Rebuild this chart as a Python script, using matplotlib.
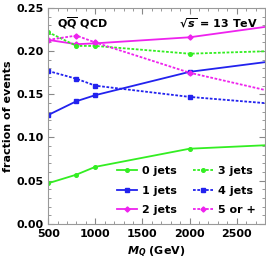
import matplotlib
matplotlib.use("Agg")
import matplotlib.pyplot as plt
from matplotlib.ticker import MultipleLocator

mass = [500, 800, 1000, 2000, 3000]
jets0 = [0.047, 0.057, 0.066, 0.087, 0.092]
jets1 = [0.126, 0.142, 0.149, 0.176, 0.190]
jets2 = [0.213, 0.208, 0.209, 0.216, 0.231]
jets3 = [0.222, 0.206, 0.206, 0.197, 0.2005]
jets4 = [0.177, 0.168, 0.160, 0.147, 0.138]
jets5 = [0.213, 0.218, 0.210, 0.175, 0.150]
labels = ["0 jets", "1 jets", "2 jets", "3 jets", "4 jets", "5 or +"]

green = "#33ee22"
blue = "#2222ee"
magenta = "#ee22ee"

plt.rcParams['font.family'] = ['DejaVu Sans']
plt.rcParams['font.weight'] = 'bold'
plt.rcParams['mathtext.default'] = 'regular'

fig = plt.figure(figsize=(2.66, 2.64), dpi=100)
ax = fig.add_axes([0.181, 0.152, 0.815, 0.818])

dot = (0, (1.5, 0.9))
styles = [
    (jets0, green, '-', 'o'),
    (jets1, blue, '-', 's'),
    (jets2, magenta, '-', 'D'),
    (jets3, green, dot, 'o'),
    (jets4, blue, dot, 's'),
    (jets5, magenta, dot, 'D'),
]
for (vals, c, ls, m), lab in zip(styles, labels):
    ax.plot(mass, vals, color=c, ls=ls, lw=1.3, marker=m, ms=2.6, label=lab,
            clip_on=True)

ax.set_xlim(500, 2800)
ax.set_ylim(0, 0.25)
ax.xaxis.set_major_locator(MultipleLocator(500))
ax.xaxis.set_minor_locator(MultipleLocator(100))
ax.yaxis.set_major_locator(MultipleLocator(0.05))
ax.yaxis.set_minor_locator(MultipleLocator(0.01))
ax.set_yticks([0, 0.05, 0.10, 0.15, 0.20, 0.25])
ax.set_yticklabels(["0.00", "0.05", "0.10", "0.15", "0.20", "0.25"])
ax.tick_params(which='both', direction='in', colors='#888888', labelcolor='black',
               labelsize=8, top=True, right=True)
ax.tick_params(which='major', length=4)
ax.tick_params(which='minor', length=2)
for lbl in ax.get_xticklabels() + ax.get_yticklabels():
    lbl.set_fontweight('bold')
for s in ax.spines.values():
    s.set_color('#999999')

ax.set_ylabel("fraction of events", fontsize=8, fontweight='bold', labelpad=2)
ax.set_xlabel(r"$\mathit{M_Q}$ (GeV)", fontsize=8, fontweight='bold', labelpad=4)

ax.text(0.04, 0.93, r"$\mathbf{Q\overline{Q}}$ QCD", transform=ax.transAxes,
        fontsize=8, fontweight='bold', va='center', ha='left')
ax.text(0.97, 0.93, r"$\sqrt{\mathit{s}}$ = 13 TeV", transform=ax.transAxes,
        fontsize=8, fontweight='bold', va='center', ha='right')

leg = ax.legend(loc='lower right', ncol=2, frameon=False, fontsize=8,
                handlelength=1.8, columnspacing=1.4, handletextpad=0.5,
                labelspacing=0.85, borderaxespad=0.4)
for t in leg.get_texts():
    t.set_fontweight('bold')

fig.savefig("out.png", dpi=100)
